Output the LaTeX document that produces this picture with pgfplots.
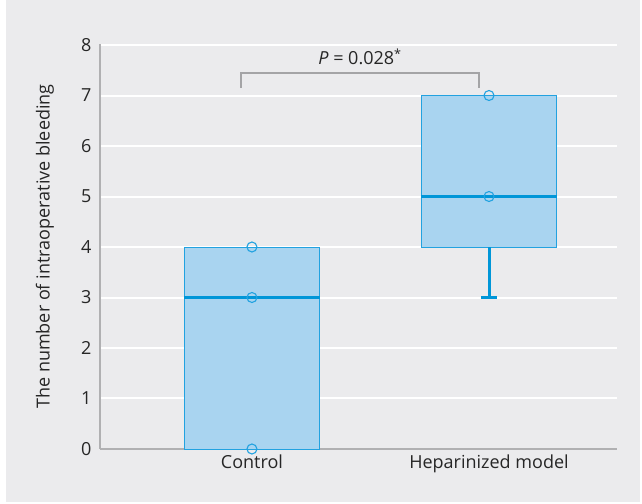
\documentclass[border=0pt]{standalone}
\usepackage{pgfplots}
\pgfplotsset{compat=1.18}
\usepgfplotslibrary{statistics}
\usepackage{fontspec}
\setmainfont{Open Sans}
\definecolor{bg}{HTML}{EBEBED}
\definecolor{boxfill}{HTML}{A9D4F0}
\definecolor{boxedge}{HTML}{22A2E0}
\definecolor{med}{HTML}{0096D8}
\definecolor{axgray}{HTML}{B0B0B2}
\definecolor{brk}{HTML}{A4A4A6}
\newcommand\chfont{\fontsize{18}{21}\selectfont}
\begin{document}
\begin{tikzpicture}[x=1pt,y=1pt]
\begin{axis}[
  set layers,
  at={(100pt,54pt)}, anchor=south west,
  scale only axis, width=517pt, height=405pt,
  xmin=0.359, xmax=2.540, ymin=0, ymax=8.02,
  axis x line=bottom, axis y line=left,
  axis line style={-, draw=axgray, line width=2pt},
  xtick={1,2}, xticklabels={Control, Heparinized model},
  ytick={0,1,...,8},
  major tick length=0pt,
  ymajorgrids, grid style={white, line width=2pt},
  /pgf/number format/assume math mode=true,
  tick label style={font=\chfont, text=black!85},
  yticklabel style={xshift=-5pt},
  xticklabel style={yshift=-2pt},
  ylabel={The number of intraoperative bleeding},
  ylabel style={font=\chfont, text=black!85, at={(axis description cs:-0.1064,0.5)}, anchor=center},
  clip=false,
  boxplot/draw direction=y,
]
\begin{pgfonlayer}{axis background}
\fill[white] (rel axis cs:-0.1934,-0.1333) rectangle (rel axis cs:1.0445,1.1086);
\fill[bg] (rel axis cs:-0.1818,-0.1309) rectangle (rel axis cs:1.0445,1.1086);
\end{pgfonlayer}
\addplot[boxplot prepared={draw position=1, lower whisker=0, lower quartile=0, median=3, upper quartile=4, upper whisker=4, box extend=0.57},
  fill=boxfill, draw=boxedge, line width=0.8pt,
  boxplot/every whisker/.style={draw=none},
  boxplot/every median/.style={draw=med, line width=3pt}] coordinates {};
\addplot[boxplot prepared={draw position=2, lower whisker=4, lower quartile=4, median=5, upper quartile=7, upper whisker=7, box extend=0.57},
  fill=boxfill, draw=boxedge, line width=0.8pt,
  boxplot/every whisker/.style={draw=none},
  boxplot/every median/.style={draw=med, line width=3pt}] coordinates {};
% lower whisker of Heparinized model (4 -> 3) and its cap
\addplot[draw=med, line width=3pt, mark=none] coordinates {(2,4) (2,3)};
\addplot[draw=med, line width=3.5pt, mark=none] coordinates {(1.967,3) (2.033,3)};
\addplot[on layer=axis foreground, only marks, mark=o, mark size=5pt, draw=boxedge, mark options={line width=1.1pt, draw=boxedge, fill=none}] coordinates {(1,0) (1,3) (1,4) (2,5) (2,7)};
\draw[brk, line width=2pt] (axis cs:0.954,7.15) -- (axis cs:0.954,7.45) -- (axis cs:1.958,7.45) -- (axis cs:1.958,7.15);
\node[font=\chfont, text=black!85] at (axis cs:1.456,7.76) {\textit{P} = 0.028\textsuperscript{*}};
\end{axis}
\pgfresetboundingbox
\path (0,0) rectangle (642,503);
\end{tikzpicture}
\end{document}
